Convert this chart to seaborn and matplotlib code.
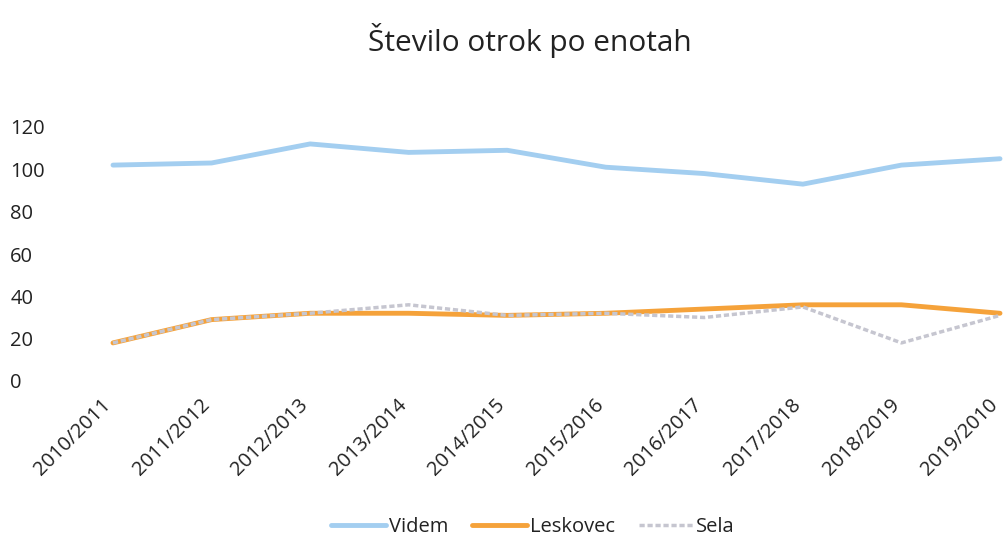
import matplotlib
matplotlib.use("Agg")
import matplotlib.pyplot as plt
import matplotlib.transforms as mtransforms
import seaborn as sns
import pandas as pd

years = ["2010/2011", "2011/2012", "2012/2013", "2013/2014", "2014/2015",
         "2015/2016", "2016/2017", "2017/2018", "2018/2019", "2019/2010"]
videm = [102, 103, 112, 108, 109, 101, 98, 93, 102, 105]
leskovec = [18, 29, 32, 32, 31, 32, 34, 36, 36, 32]
sela = [18, 29, 32, 36, 31, 32, 30, 35, 18, 31]
yticks = [0, 20, 40, 60, 80, 100, 120]

sns.set_theme(style="white")
plt.rcParams['font.family'] = ['Open Sans', 'DejaVu Sans']

x = list(range(len(years)))
df = pd.DataFrame({"x": x, "Videm": videm, "Leskovec": leskovec, "Sela": sela})

fig = plt.figure(figsize=(10.04, 5.40), dpi=100)
ax = fig.add_axes([113/1004, 1-381/540, (1000-113)/1004, (381-127)/540])

sns.lineplot(data=df, x="x", y="Videm", ax=ax, color="#a3cef0", linewidth=3.5,
             label="Videm", clip_on=False)
sns.lineplot(data=df, x="x", y="Leskovec", ax=ax, color="#f5a23a", linewidth=3.5,
             label="Leskovec", clip_on=False)
sns.lineplot(data=df, x="x", y="Sela", ax=ax, color="#c6c6d0", linewidth=2.5,
             linestyle=(0, (1.5, 0.8)), label="Sela", clip_on=False)

ax.set_xlim(0, len(years) - 1)
ax.set_ylim(0, 120)
ax.set_yticks(yticks)
ax.set_yticklabels([str(v) for v in yticks], fontsize=14.5, color="#222222", ha="left")
ax.tick_params(axis="y", pad=74, length=0)
ax.set_xticks(x)
ax.set_xticklabels(years, rotation=45, ha="right", va="center", rotation_mode="anchor",
                   fontsize=14.5, color="#222222")
ax.tick_params(axis="x", pad=15, length=0)
shift = mtransforms.ScaledTranslation(-5/100, 0, fig.dpi_scale_trans)
for lab in ax.get_xticklabels():
    lab.set_transform(lab.get_transform() + shift)
ax.set_xlabel("")
ax.set_ylabel("")
for s in ax.spines.values():
    s.set_visible(False)
ax.grid(False)

fig.text(0.528, 0.925, "Število otrok po enotah", ha="center", va="center",
         fontsize=21.5, color="#222222")

leg = ax.legend(loc="center", bbox_to_anchor=(533/1004, 1-527/540),
                bbox_transform=fig.transFigure, ncol=3, frameon=False,
                fontsize=14.5, handlelength=2.7, columnspacing=1.2, handletextpad=0.15,
                borderpad=0.1)
for t in leg.get_texts():
    t.set_color("#222222")

fig.savefig("out.png", dpi=100)
